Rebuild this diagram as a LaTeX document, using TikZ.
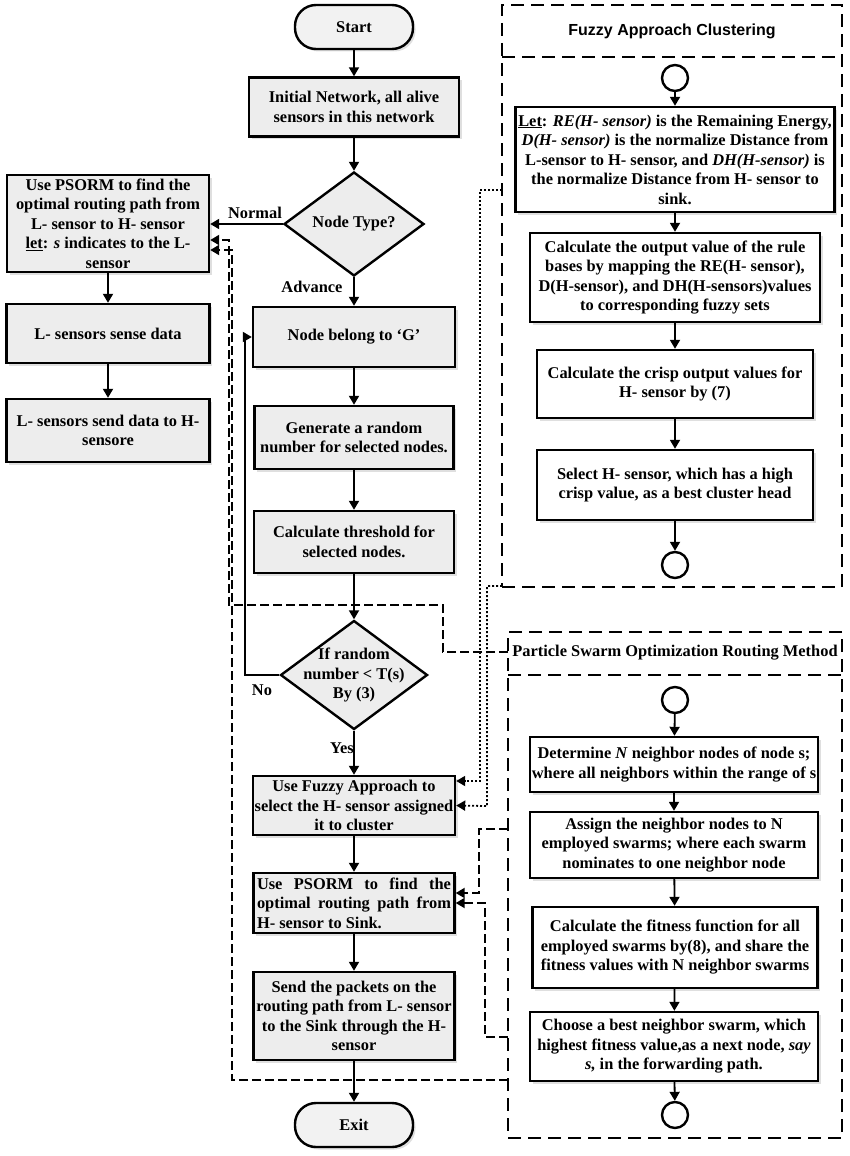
\documentclass[tikz,border=0pt]{standalone}
\usepackage{fontspec}
\setmainfont{Liberation Serif}
\newfontfamily\titlesans{Liberation Sans}
\usetikzlibrary{shapes.geometric,arrows.meta,shadows}
\begin{document}
\begin{tikzpicture}[x=1pt,y=-1pt,
  every node/.style={font=\fontsize{16.4}{19.5}\selectfont\bfseries, inner sep=1pt},
  shad/.style={drop shadow={opacity=0.25,shadow xshift=2.5pt,shadow yshift=-2.5pt}},
  gbox/.style={draw, line width=2.4pt, fill=black!7, align=center, shad},
  wbox/.style={draw, line width=2.4pt, fill=white, align=center, shad},
  term/.style={draw, line width=2.4pt, fill=black!5, rounded corners=21pt, shad},
  dia/.style={diamond, draw, line width=2.4pt, fill=black!7, aspect=1.35, inner sep=0pt},
  circ/.style={circle, draw, line width=2.4pt, minimum size=26pt, inner sep=0pt},
  panel/.style={draw, line width=2.6pt, dash pattern=on 13pt off 7pt},
  flow/.style={line width=1.8pt, -{Triangle[length=9pt,width=10pt]}},
  dconn/.style={line width=2pt, dash pattern=on 9pt off 4pt, -{Triangle[length=9pt,width=10pt]}},
  dotc/.style={line width=1.8pt, dash pattern=on 2pt off 2pt, -{Triangle[length=9pt,width=10pt]}},
  lbl/.style={inner sep=0pt}
]
\useasboundingbox (0,0) rectangle (850,1156);

% ---------- main column ----------
\node[term, minimum width=118pt, minimum height=44pt] (start) at (354,27) {Start};
\node[gbox, minimum width=210pt, minimum height=59pt] (init) at (354,107) {Initial Network, all alive\\sensors in this network};
\node[dia, minimum width=140pt, minimum height=104pt] (nt) at (354,224) {};
\node[lbl] (ntt) at (354,224) {Node Type?};
\node[gbox, minimum width=202pt, minimum height=97pt] (psl) at (108,223.5) {Use PSORM to find the\\optimal routing path from\\L- sensor to H- sensor\\\underline{let}: \textit{s} indicates to the L-\\sensor};
\node[gbox, minimum width=203pt, minimum height=59pt] (lsense) at (108,333.5) {L- sensors sense data};
\node[gbox, minimum width=203pt, minimum height=63pt] (lsend) at (108,430.5) {L- sensors send data to H-\\sensore};
\node[gbox, minimum width=202pt, minimum height=60pt] (belong) at (354,337) {Node belong to ‘G’};
\node[gbox, minimum width=199pt, minimum height=63pt] (gen) at (354,437.5) {Generate a random\\number for selected nodes.};
\node[gbox, minimum width=200pt, minimum height=62pt] (thr) at (354,542) {Calculate threshold for\\selected nodes.};
\node[dia, minimum width=147pt, minimum height=109pt] (d2) at (354,675) {};
\node[lbl, align=center] (d2t) at (354,675) {If random\\number < T(s)\\By (3)};
\node[gbox, minimum width=202pt, minimum height=59pt] (fuse) at (354,805.5) {Use Fuzzy Approach to\\select the H- sensor assigned\\it to cluster};
\node[gbox, minimum width=201pt, minimum height=60pt, align=left] (psh) at (354,903) {\makebox[194pt][s]{Use PSORM to find the}\\\makebox[194pt][s]{optimal routing path from}\\H- sensor to Sink.};
\node[gbox, minimum width=201pt, minimum height=88pt] (send) at (354,1016) {Send the packets on the\\routing path from L- sensor\\to the Sink through the H-\\sensor};
\node[term, minimum width=118pt, minimum height=44pt] (exit) at (354,1125) {Exit};

% labels
\node[lbl] (lnormal) at (255,213) {Normal};
\node[lbl] (ladv) at (312,287) {Advance};
\node[lbl] (lno) at (262,690) {No};
\node[lbl] (lyes) at (342,748) {Yes};

% main flow
\draw[flow] (start) -- (init);
\draw[flow] (init) -- (nt);
\draw[flow] (nt.west) -- (psl.east |- nt.west);
\draw[flow] (nt.south) -- (belong.north);
\draw[flow] (psl) -- (lsense);
\draw[flow] (lsense) -- (lsend);
\draw[flow] (belong) -- (gen);
\draw[flow] (gen) -- (thr);
\draw[flow] (thr.south) -- (d2.north);
\draw[flow] (d2.south) -- (fuse.north);
\draw[flow] (fuse) -- (psh);
\draw[flow] (psh) -- (send);
\draw[flow] (send) -- (exit);
\draw[flow] (d2.west) -- (245,675) -- (245,337) -- (belong.west);

% ---------- fuzzy panel ----------
\node[panel, minimum width=340pt, minimum height=582pt, inner sep=0pt] (fz) at (672,296) {};
\draw[panel] (502,57) -- (842,57);
\node[font=\titlesans\bfseries\fontsize{16}{18}\selectfont] (fzt) at (672,31) {Fuzzy Approach Clustering};
\node[circ] (c1) at (675,78) {};
\node[wbox, minimum width=319pt, minimum height=105pt] (let) at (675,159.5) {\underline{Let}: \textit{RE(H- sensor)} is the Remaining Energy,\\\textit{D(H- sensor)} is the normalize Distance from\\L-sensor to H- sensor, and \textit{DH(H-sensor)} is\\the normalize Distance from H- sensor to\\sink.};
\node[wbox, minimum width=290pt, minimum height=89pt] (rule) at (675,277.5) {Calculate the output value of the rule\\bases by mapping the RE(H- sensor),\\D(H-sensor), and DH(H-sensors)values\\to corresponding fuzzy sets};
\node[wbox, minimum width=276pt, minimum height=68pt] (crisp) at (675,384) {Calculate the crisp output values for\\H- sensor by (7)};
\node[wbox, minimum width=276pt, minimum height=70pt] (sel) at (675,485) {Select H- sensor, which has a high\\crisp value, as a best cluster head};
\node[circ] (c2) at (675,565) {};
\draw[flow] (c1) -- (let);
\draw[flow] (let) -- (rule);
\draw[flow] (rule) -- (crisp);
\draw[flow] (crisp) -- (sel);
\draw[flow] (sel) -- (c2);

% ---------- PSO panel ----------
\node[panel, minimum width=334pt, minimum height=506pt, inner sep=0pt] (pso) at (675,885) {};
\draw[panel] (508,675) -- (842,675);
\node (psot) at (675,653) {Particle Swarm Optimization Routing Method};
\node[circ] (c3) at (675,700) {};
\node[wbox, minimum width=288pt, minimum height=55pt] (det) at (674,764.5) {Determine \textit{N} neighbor nodes of node s;\\where all neighbors within the range of s};
\node[wbox, minimum width=288pt, minimum height=66pt] (asg) at (674,845) {Assign the neighbor nodes to N\\employed swarms; where each swarm\\nominates to one neighbor node};
\node[wbox, minimum width=285pt, minimum height=81pt] (fit) at (675,947.5) {Calculate the fitness function for all\\employed swarms by(8), and share the\\fitness values with N neighbor swarms};
\node[wbox, minimum width=288pt, minimum height=69pt] (cho) at (674,1046.5) {Choose a best neighbor swarm, which\\highest fitness value,as a next node, \textit{say}\\\textit{s,} in the forwarding path.};
\node[circ] (c4) at (675,1115) {};
\draw[flow] (c3) -- (det);
\draw[flow] (det) -- (asg);
\draw[flow] (asg) -- (fit);
\draw[flow] (fit) -- (cho);
\draw[flow] (cho) -- (c4);

% ---------- cross connectors ----------
\coordinate (pA) at (508,652);
\coordinate (pB) at (508,829);
\coordinate (pC) at (508,1037);
\coordinate (pD) at (508,1080);
\coordinate (fA) at (502,190);
\coordinate (fB) at (502,586);
\draw[dconn] (pA) -- (443,652) -- (443,605) -- (229,605) -- (229,240) -- (psl.east |- 0,240);
\draw[dconn] (pD) -- (232,1080) -- (232,250) -- (psl.east |- 0,250);
\draw[dconn] (pB) -- (479,829) -- (479,893) -- (psh.east |- 0,893);
\draw[dconn] (pC) -- (485,1037) -- (485,903) -- (psh.east);
\draw[dotc] (fA) -- (480,190) -- (480,781) -- (fuse.east |- 0,781);
\draw[dotc] (fB) -- (487,586) -- (487,806) -- (fuse.east);
\end{tikzpicture}
\end{document}
